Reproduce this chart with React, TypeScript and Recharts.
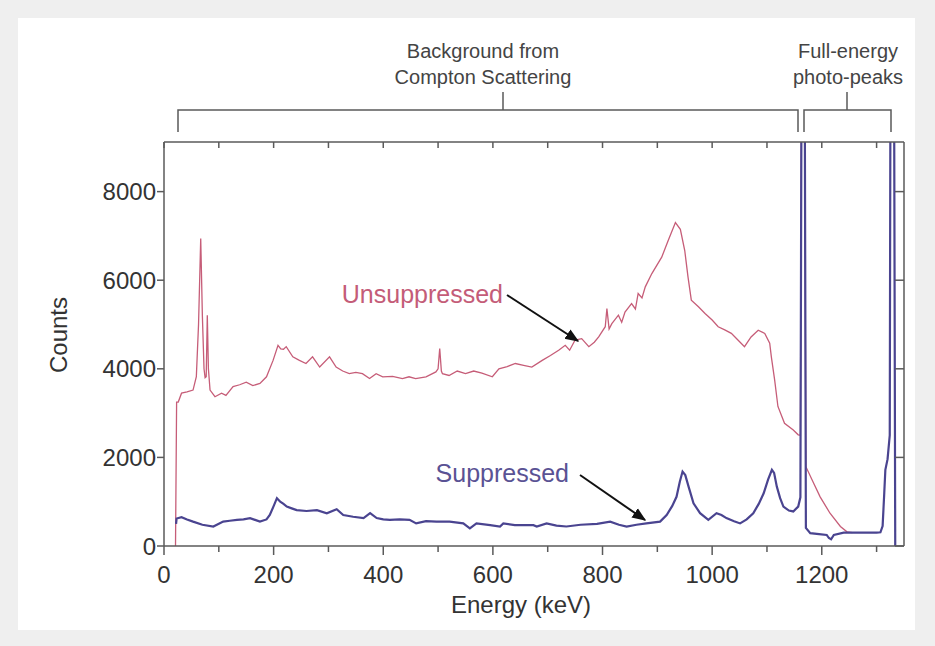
import { LineChart, Line, XAxis, YAxis } from 'recharts'

// Energy (keV) / counts
const unsuppressedE = [
  21, 23, 26, 32, 42, 53, 59, 63, 67, 70, 73, 75, 77, 79, 81, 84, 93, 105, 113, 126,
  138, 150, 162, 175, 187, 199, 208, 213, 218, 223, 235, 247, 259, 271, 284, 302, 314, 326, 338, 350,
  362, 375, 387, 399, 417, 435, 447, 459, 478, 496, 500, 503, 506, 508, 520, 535, 550, 565, 580, 599,
  611, 626, 641, 656, 671, 690, 705, 720, 732, 740, 750, 762, 775, 785, 793, 805, 808, 812, 817, 829, 835, 841, 853,
  860, 865, 872, 878, 890, 908, 920, 933, 942, 950, 956, 962, 975, 987, 1000, 1011, 1023, 1035, 1047, 1059, 1071, 1084,
  1096, 1105, 1108, 1114, 1120, 1132, 1148, 1157, 1161, 1164, 1167, 1171, 1185, 1197, 1215, 1234, 1246, 1256,
]
const unsuppressedC = [
  0, 3250, 3250, 3450, 3480, 3520, 3820, 5000, 6940, 5200, 4000, 3800, 3820, 5210, 4000, 3520, 3370, 3450, 3400, 3600,
  3640, 3700, 3620, 3670, 3820, 4190, 4530, 4450, 4440, 4500, 4270, 4190, 4120, 4270, 4040, 4270, 4040, 3950, 3890, 3920,
  3890, 3780, 3890, 3820, 3830, 3780, 3820, 3780, 3820, 3930, 4000, 4460, 3950, 3890, 3850, 3950, 3890, 3950, 3900, 3820,
  4000, 4050, 4120, 4080, 4040, 4190, 4300, 4420, 4530, 4420, 4650, 4680, 4500, 4600, 4720, 4950, 5360, 4900, 5020, 5210, 5050, 5280, 5470,
  5350, 5700, 5600, 5850, 6150, 6520, 6900, 7300, 7150, 6670, 6070, 5550, 5400, 5250, 5100, 4950, 4880, 4800, 4650, 4500, 4720, 4870,
  4800, 4580, 4270, 3750, 3150, 2770, 2620, 2510, 2500, 15000, 15000, 1790, 1420, 1110, 740, 440, 320, 300,
]

const suppressedE = [
  22, 23, 32, 42, 53, 70, 90, 108, 120, 133, 145, 157, 175, 187, 193, 200, 206, 212, 218, 224,
  233, 242, 260, 279, 297, 315, 327, 345, 364, 376, 388, 400, 412, 430, 448, 460, 478, 497, 521, 546,
  558, 570, 595, 613, 619, 640, 656, 674, 680, 698, 716, 734, 760, 790, 814, 830, 844, 862, 880, 905,
  917, 927, 935, 941, 946, 951, 957, 966, 978, 993, 1008, 1017, 1026, 1040, 1051, 1063, 1075, 1085, 1094, 1102,
  1109, 1113, 1118, 1124, 1130, 1140, 1148, 1157, 1161, 1164, 1168, 1171, 1179, 1195, 1209, 1213, 1217, 1222, 1240, 1270,
  1300, 1307, 1311, 1314, 1316, 1320, 1324, 1326, 1331, 1334,
]
const suppressedC = [
  500, 620, 650, 600, 550, 480, 440, 550, 570, 590, 600, 630, 550, 600, 700, 900, 1080, 1000, 950, 890,
  850, 810, 790, 810, 740, 830, 700, 660, 630, 740, 630, 600, 590, 600, 590, 510, 560, 550, 550, 510,
  400, 510, 470, 440, 510, 470, 470, 470, 440, 510, 460, 440, 480, 500, 550, 480, 440, 480, 510, 550,
  700, 900, 1110, 1450, 1680, 1600, 1340, 965, 740, 590, 740, 700, 630, 560, 510, 600, 740, 950, 1190, 1500,
  1720, 1650, 1340, 1080, 890, 800, 780, 890, 1100, 15000, 15000, 410, 290, 270, 250, 180, 150, 250, 300, 300,
  300, 310, 450, 1200, 1720, 1960, 2500, 15000, 15000, 0,
]

const xTicks = [0, 100, 200, 300, 400, 500, 600, 700, 800, 900, 1000, 1100, 1200, 1300]
const yTicks = [0, 2000, 4000, 6000, 8000]

const unsuppressed = unsuppressedE.map((e, i) => ({ e, c: unsuppressedC[i] }))
const suppressed = suppressedE.map((e, i) => ({ e, c: suppressedC[i] }))

const FONT = '"Liberation Sans", Arial, Helvetica, sans-serif'
const AXIS = '#5a5a5a'

const BottomTick = (props: any) => {
  const { x, y, payload } = props
  const major = payload.value % 200 === 0
  return (
    <g>
      <line x1={x} y1={y} x2={x} y2={y + (major ? 9 : 6)} stroke={AXIS} strokeWidth={1.5} />
      {major && (
        <text x={x} y={y + 37} textAnchor="middle" fontSize={24} fill="#333" fontFamily={FONT}>
          {payload.value}
        </text>
      )}
    </g>
  )
}

const TopTick = (props: any) => {
  const { x, y } = props
  return <line x1={x} y1={y} x2={x} y2={y + 6} stroke={AXIS} strokeWidth={1.5} />
}

const RightTick = (props: any) => {
  const { x, y } = props
  return <line x1={x - 9} y1={y} x2={x} y2={y} stroke={AXIS} strokeWidth={1.5} />
}

export default function App() {
  return (
    <div style={{ position: 'absolute', left: 0, top: 0, width: 935, height: 646, background: '#efefef' }}>
      <div style={{ position: 'absolute', left: 18, top: 18, width: 897, height: 612, background: '#fff' }} />
      <div style={{ position: 'absolute', left: 0, top: 0 }}>
        <LineChart width={935} height={646} margin={{ top: 141, right: 30, bottom: 40, left: 84 }}>
          <XAxis
            xAxisId="b"
            type="number"
            dataKey="e"
            domain={[0, 1350]}
            allowDataOverflow
            ticks={xTicks}
            interval={0}
            height={60}
            tickSize={0}
            tickMargin={0}
            tick={<BottomTick />}
            axisLine={{ stroke: AXIS, strokeWidth: 1.5 }}
          />
          <XAxis
            xAxisId="t"
            orientation="top"
            type="number"
            dataKey="e"
            domain={[0, 1350]}
            allowDataOverflow
            ticks={xTicks}
            interval={0}
            height={1}
            tickSize={0}
            tickMargin={0}
            tick={<TopTick />}
            axisLine={{ stroke: AXIS, strokeWidth: 1.5 }}
          />
          <YAxis
            yAxisId="l"
            type="number"
            domain={[0, 9120]}
            allowDataOverflow
            ticks={yTicks}
            interval={0}
            width={80}
            tickSize={7}
            tickMargin={1}
            tickLine={{ stroke: AXIS, strokeWidth: 1.5 }}
            axisLine={{ stroke: AXIS, strokeWidth: 1.5 }}
            tick={{ fontSize: 24, fill: '#333', fontFamily: FONT }}
          />
          <YAxis
            yAxisId="r"
            orientation="right"
            type="number"
            domain={[0, 9120]}
            allowDataOverflow
            ticks={yTicks}
            interval={0}
            width={1}
            tickSize={0}
            tickMargin={0}
            tick={<RightTick />}
            axisLine={{ stroke: AXIS, strokeWidth: 1.5 }}
          />
          {/* invisible series so the framing axes have something bound to them */}
          <Line
            xAxisId="t"
            yAxisId="r"
            data={suppressed}
            dataKey="c"
            stroke="none"
            dot={false}
            legendType="none"
            isAnimationActive={false}
          />
          <Line
            xAxisId="b"
            yAxisId="l"
            data={unsuppressed}
            dataKey="c"
            type="linear"
            stroke="#c65d78"
            strokeWidth={1.3}
            dot={false}
            isAnimationActive={false}
          />
          <Line
            xAxisId="b"
            yAxisId="l"
            data={suppressed}
            dataKey="c"
            type="linear"
            stroke="#4a4490"
            strokeWidth={2.2}
            dot={false}
            isAnimationActive={false}
          />
        </LineChart>
      </div>
      <svg
        width={935}
        height={646}
        style={{ position: 'absolute', left: 0, top: 0, pointerEvents: 'none' }}
        fontFamily={FONT}
      >
        <defs>
          <marker id="ah" viewBox="0 0 10 10" refX="9" refY="5" markerWidth="7" markerHeight="7" orient="auto">
            <path d="M0,1 L10,5 L0,9 z" fill="#111" />
          </marker>
        </defs>
        {/* top brackets */}
        <g stroke={AXIS} strokeWidth={1.5} fill="none">
          <path d="M178,132 V110 H798 V132" />
          <path d="M503,92 V110" />
          <path d="M804,132 V110 H891 V132" />
          <path d="M847,92 V110" />
        </g>
        <g fontSize={20} fill="#444" textAnchor="middle">
          <text x={483} y={58}>Background from</text>
          <text x={483} y={84}>Compton Scattering</text>
          <text x={848} y={58}>Full-energy</text>
          <text x={848} y={84}>photo-peaks</text>
        </g>
        {/* series labels */}
        <text x={503} y={303} textAnchor="end" fontSize={25} fill="#c45c78">Unsuppressed</text>
        <line x1={507} y1={295} x2={578} y2={341} stroke="#111" strokeWidth={2} markerEnd="url(#ah)" />
        <text x={569} y={482} textAnchor="end" fontSize={25} fill="#5a5294">Suppressed</text>
        <line x1={580} y1={475} x2={645} y2={520} stroke="#111" strokeWidth={2} markerEnd="url(#ah)" />
        {/* axis titles */}
        <text x={521} y={613} textAnchor="middle" fontSize={24} fill="#333">Energy (keV)</text>
        <text x={67} y={335} textAnchor="middle" fontSize={24} fill="#333" transform="rotate(-90 67 335)">Counts</text>
      </svg>
    </div>
  )
}
